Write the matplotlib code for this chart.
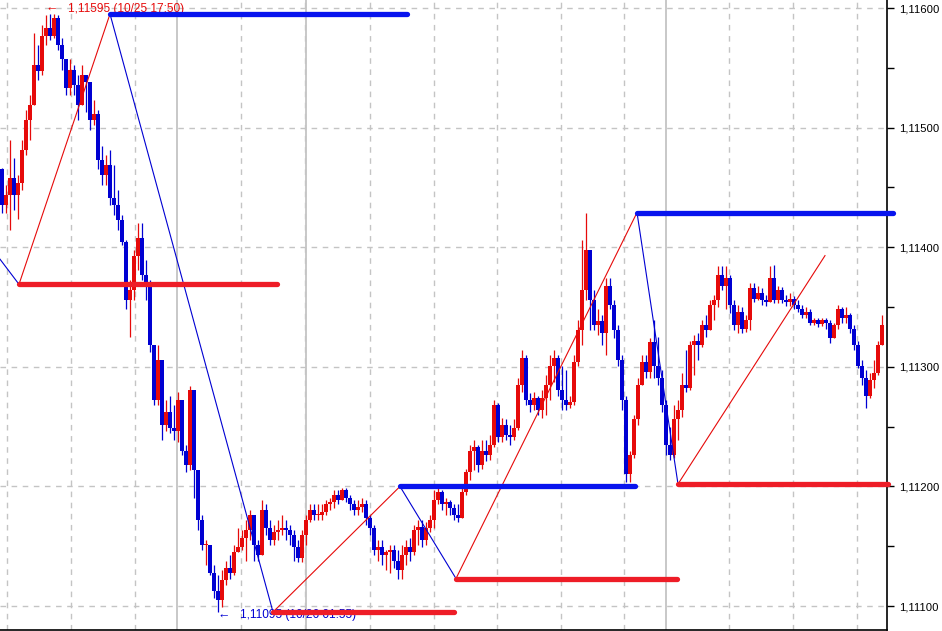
import numpy as np
import matplotlib
matplotlib.use("Agg")
import matplotlib.pyplot as plt
from matplotlib.ticker import FixedLocator, FuncFormatter

plt.rcParams['font.family'] = ['Liberation Sans Narrow', 'Liberation Sans', 'DejaVu Sans']

# prices in points above 1.11000 (1 point = 0.00001)
first_open = 465
close_pts = [435, 444, 458, 444, 454, 481, 506, 519, 552, 547,
             577, 583, 577, 592, 569, 557, 533, 548, 536, 519,
             544, 538, 506, 511, 473, 460, 469, 441, 435, 423,
             404, 356, 364, 393, 408, 377, 368, 318, 272, 306,
             251, 262, 249, 246, 272, 230, 218, 281, 214, 172,
             151, 151, 128, 113, 105, 122, 132, 128, 145, 149,
             157, 164, 176, 151, 143, 180, 165, 155, 162, 164,
             165, 164, 159, 149, 140, 159, 172, 180, 176, 176,
             179, 185, 187, 193, 189, 197, 190, 185, 180, 183,
             185, 174, 165, 147, 149, 143, 145, 147, 138, 130,
             143, 149, 145, 164, 166, 155, 165, 172, 189, 195,
             185, 187, 182, 176, 174, 195, 212, 230, 233, 218,
             230, 226, 235, 268, 241, 251, 243, 241, 249, 285,
             307, 272, 268, 274, 264, 274, 285, 301, 307, 281,
             272, 268, 271, 304, 331, 364, 398, 356, 335, 338,
             328, 368, 352, 331, 306, 272, 210, 226, 256, 285,
             304, 296, 321, 301, 291, 268, 235, 226, 256, 264,
             285, 282, 318, 322, 318, 335, 331, 352, 356, 377,
             368, 374, 352, 335, 346, 332, 339, 366, 357, 362,
             356, 354, 374, 356, 364, 356, 354, 357, 352, 348,
             343, 346, 337, 339, 336, 339, 337, 324, 335, 348,
             341, 343, 332, 318, 301, 291, 276, 289, 295, 318, 335]
high_pts = [466, 452, 490, 475, 460, 490, 515, 527, 579, 569,
            586, 594, 595, 595, 594, 575, 557, 557, 552, 544,
            552, 541, 531, 523, 515, 485, 477, 481, 469, 448,
            427, 406, 373, 398, 420, 420, 389, 373, 318, 318,
            306, 272, 276, 268, 279, 272, 235, 284, 281, 197,
            176, 155, 151, 134, 126, 130, 138, 143, 151, 165,
            164, 172, 180, 176, 155, 189, 185, 172, 168, 172,
            176, 172, 168, 164, 155, 164, 176, 185, 185, 185,
            185, 189, 190, 197, 197, 199, 199, 193, 189, 189,
            190, 189, 176, 168, 155, 155, 147, 151, 151, 147,
            151, 155, 157, 168, 172, 172, 170, 176, 197, 199,
            197, 190, 189, 185, 185, 199, 215, 235, 239, 235,
            239, 239, 243, 272, 270, 257, 256, 251, 256, 291,
            314, 310, 278, 279, 276, 281, 293, 310, 314, 310,
            301, 297, 276, 310, 339, 406, 429, 385, 364, 348,
            343, 374, 374, 356, 335, 310, 276, 230, 260, 291,
            310, 310, 324, 339, 325, 297, 272, 250, 268, 272,
            295, 314, 322, 327, 328, 339, 343, 356, 360, 384,
            384, 384, 377, 356, 352, 350, 343, 370, 370, 368,
            366, 360, 384, 385, 368, 367, 360, 362, 359, 356,
            352, 350, 348, 341, 341, 341, 341, 339, 337, 352,
            350, 350, 345, 335, 322, 306, 297, 295, 306, 322, 343]
low_pts = [429, 429, 414, 431, 424, 448, 477, 490, 519, 540,
           544, 569, 573, 575, 565, 548, 527, 527, 527, 506,
           519, 513, 498, 502, 465, 452, 452, 435, 427, 414,
           402, 348, 325, 356, 381, 373, 356, 312, 268, 268,
           239, 246, 245, 239, 237, 226, 212, 214, 190, 164,
           147, 134, 126, 107, 95, 99, 118, 123, 126, 145,
           147, 138, 155, 138, 138, 151, 159, 151, 151, 155,
           159, 155, 151, 138, 137, 137, 151, 170, 172, 172,
           172, 176, 180, 182, 185, 189, 187, 180, 176, 176,
           179, 168, 159, 143, 138, 134, 130, 128, 132, 123,
           123, 134, 138, 143, 151, 149, 151, 162, 165, 185,
           180, 176, 176, 172, 170, 174, 193, 205, 214, 212,
           215, 221, 222, 233, 237, 237, 239, 235, 239, 247,
           279, 268, 262, 264, 260, 257, 260, 272, 287, 276,
           264, 264, 266, 268, 301, 318, 356, 331, 331, 327,
           318, 310, 348, 324, 301, 264, 204, 204, 224, 251,
           285, 291, 291, 291, 285, 262, 226, 222, 224, 239,
           258, 279, 281, 293, 306, 317, 325, 335, 339, 350,
           364, 348, 345, 331, 328, 328, 329, 331, 354, 356,
           352, 351, 356, 353, 353, 353, 351, 351, 348, 346,
           341, 341, 335, 335, 333, 334, 332, 320, 328, 332,
           337, 337, 328, 314, 299, 285, 266, 274, 282, 293, 318]

# zigzag pivots (bar index, points)
zz_x = [-0.5, 4.25, 27, 67.75, 99.5, 113.5, 158.75, 169, 205.75]
zz_pts = [390, 369, 595, 95, 200, 123, 429, 202, 393]

# horizontal levels
lv_start = [27, 4.25, 67.75, 99.5, 113.5, 158.75, 169]
lv_end = [101.25, 68.75, 113, 158.25, 168.75, 222.75, 221.5]
lv_pts = [595, 369, 95, 200, 123, 429, 202]
lv_up = [True, False, False, True, False, True, False]

# time grid lines (bar index)
grid_dash = [1.25, 17.25, 33.25, 59.75, 75.75, 92, 108, 123.75, 139.75, 155.5, 181.75, 197.75, 213.75]
grid_solid = [43.75, 76, 166]

price_ticks = [1.111, 1.112, 1.113, 1.114, 1.115, 1.116]
price_minor = [1.1105, 1.1115, 1.1125, 1.1135, 1.1145, 1.1155]

BAR_RED = '#e60a0a'
BAR_BLUE = '#0000d2'
LV_RED = '#ee1d27'
LV_BLUE = '#0814ee'

base = 1.11
pt = 0.00001
c = base + np.array(close_pts) * pt
o = np.r_[base + first_open * pt, c[:-1]]
h = np.maximum(base + np.array(high_pts) * pt, np.maximum(o, c))
l = np.minimum(base + np.array(low_pts) * pt, np.minimum(o, c))
idx = np.arange(len(c))
cols = np.where(c >= o, BAR_RED, BAR_BLUE)

fig = plt.figure(figsize=(9.42, 6.31), dpi=100)
ax = fig.add_axes([0, 1.5 / 631, 887 / 942, 1 - 1.5 / 631])

for g in grid_dash:
    ax.axvline(g, color='#c4c4c4', lw=1, ls=(0, (4, 4)), zorder=1)
for g in grid_solid:
    ax.axvline(g, color='#c4c4c4', lw=1.3, zorder=1)
for p in price_ticks:
    ax.axhline(p, color='#c4c4c4', lw=1, ls=(0, (4, 4)), zorder=1)

ax.vlines(idx, l, h, colors=cols, lw=0.9, zorder=2)
ax.bar(idx, np.maximum(np.abs(c - o), 1.2 * pt), bottom=np.minimum(o, c),
       width=0.88, color=cols, linewidth=0, zorder=2)

zz_p = base + np.array(zz_pts) * pt
for k in range(len(zz_x) - 1):
    col = BAR_RED if zz_p[k + 1] > zz_p[k] else BAR_BLUE
    ax.plot(zz_x[k:k + 2], zz_p[k:k + 2], color=col, lw=0.8, zorder=3)

ax.text(11, 1.115993, "\u2190", color=BAR_RED, fontsize=9, va='center', ha='left', zorder=4)
ax.text(16.5, 1.115992, "1,11595 (10/25 17:50)", color=BAR_RED, fontsize=8.6,
        va='center', ha='left', zorder=4)
ax.text(54, 1.110915, "\u2190", color=BAR_BLUE, fontsize=9, va='center', ha='left', zorder=4)
ax.text(59.5, 1.110925, "1,11095 (10/26 01:55)", color=BAR_BLUE, fontsize=8.6,
        va='center', ha='left', zorder=4)

for s, e, p, up in zip(lv_start, lv_end, lv_pts, lv_up):
    ax.plot([s, e], [base + p * pt] * 2, color=LV_BLUE if up else LV_RED, lw=3.8,
            solid_capstyle='round', zorder=5, clip_on=False)

ax.set_xlim(-0.5, 221.25)
ax.set_ylim(1.110804, 1.116067)
ax.set_xticks([])
ax.yaxis.tick_right()
ax.yaxis.set_major_locator(FixedLocator(price_ticks))
ax.yaxis.set_minor_locator(FixedLocator(price_minor))
ax.yaxis.set_major_formatter(FuncFormatter(lambda v, _: f"{v:.5f}".replace('.', ',')))
ax.tick_params(axis='y', which='both', direction='out', length=5, width=1,
               labelsize=8.1, pad=4, colors='black')
for side in ['left', 'top']:
    ax.spines[side].set_visible(False)
ax.spines['right'].set_linewidth(1.2)
ax.spines['bottom'].set_linewidth(1.2)

fig.savefig('out.png', dpi=100)
